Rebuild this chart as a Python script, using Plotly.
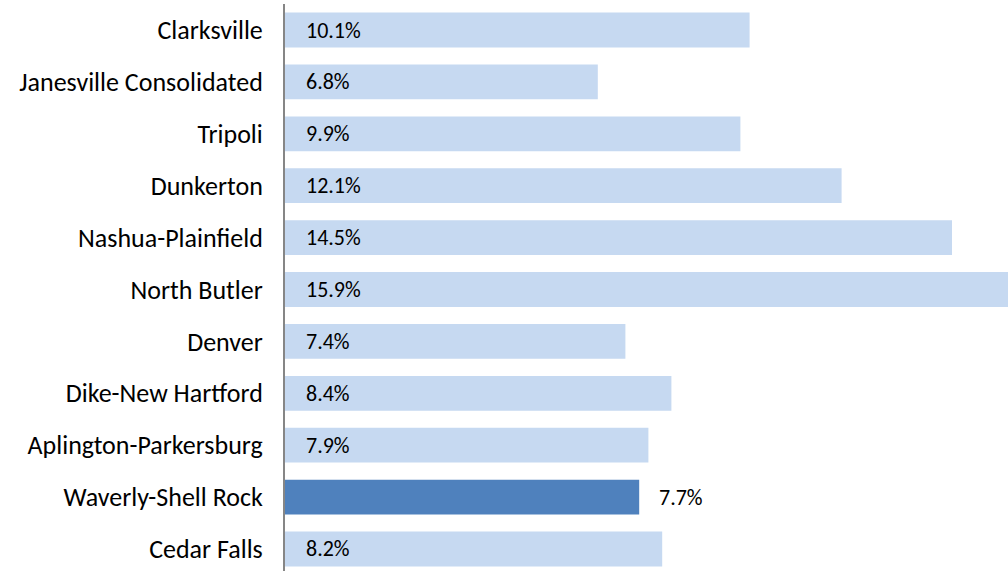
import plotly.graph_objects as go

categories = ["Clarksville", "Janesville Consolidated", "Tripoli", "Dunkerton",
              "Nashua-Plainfield", "North Butler", "Denver", "Dike-New Hartford",
              "Aplington-Parkersburg", "Waverly-Shell Rock", "Cedar Falls"]
values = [10.1, 6.8, 9.9, 12.1, 14.5, 15.9, 7.4, 8.4, 7.9, 7.7, 8.2]
highlight = "Waverly-Shell Rock"

LIGHT = "#C6D9F1"
DARK = "#4F81BD"
FONT = "Carlito, Calibri, Lato, sans-serif"

colors = [DARK if c == highlight else LIGHT for c in categories]

fig = go.Figure(go.Bar(
    x=values, y=categories, orientation="h",
    marker=dict(color=colors, line=dict(width=0)),
    width=0.67,
))

for c, v in zip(categories, values):
    if c == highlight:
        fig.add_annotation(x=v, y=c, text=f"{v:.1f}%", showarrow=False,
                           xanchor="left", xshift=18,
                           font=dict(family=FONT, size=22, color="#000000"))
    else:
        fig.add_annotation(x=0, y=c, text=f"{v:.1f}%", showarrow=False,
                           xanchor="left", xshift=19,
                           font=dict(family=FONT, size=22, color="#000000"))

fig.update_layout(
    width=1008, height=571,
    margin=dict(l=285, r=0, t=4, b=0),
    paper_bgcolor="white", plot_bgcolor="white",
    showlegend=False,
    xaxis=dict(range=[0, 723 / 46], showgrid=False, zeroline=False,
               showticklabels=False, showline=False),
    yaxis=dict(type="category", range=[10.424, -0.501], showgrid=False,
               zeroline=False, showline=True, linecolor="#868686", linewidth=2,
               ticks="", ticklabelstandoff=15,
               tickfont=dict(family=FONT, size=26, color="#000000")),
)

fig.write_html("out.html", config={"displayModeBar": False},
               post_script="document.body.style.margin='0';document.body.style.overflow='hidden';")
